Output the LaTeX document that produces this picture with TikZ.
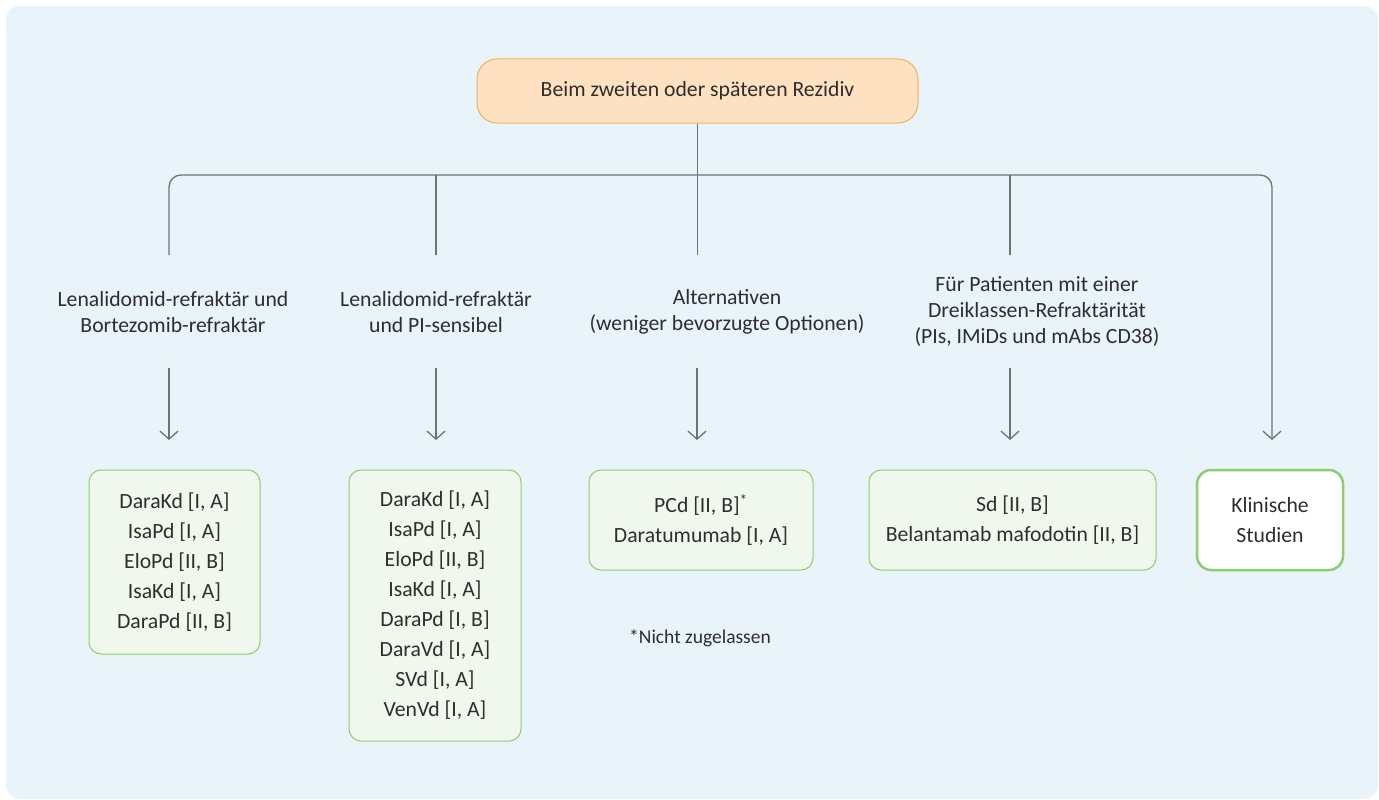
\documentclass[tikz,border=0pt]{standalone}
\usepackage{fontspec}
\setmainfont{Carlito}
\usetikzlibrary{positioning,arrows.meta}
\definecolor{bgblue}{HTML}{E8F3FA}
\definecolor{peach}{HTML}{FDE1C0}
\definecolor{peachline}{HTML}{F3B160}
\definecolor{boxgreen}{HTML}{F0F7EC}
\definecolor{greenline}{HTML}{8FCC6E}
\definecolor{linegray}{HTML}{6E7378}
\definecolor{textgray}{HTML}{2E2E2E}

\begin{document}
\begin{tikzpicture}[x=1pt,y=-1pt,
		every node/.style={text=textgray, font=\fontsize{21.7}{30}\selectfont},
		topbox/.style={draw=peachline, fill=peach, rounded corners=20pt, line width=1pt, minimum width=441pt, minimum height=64pt},
		drugbox/.style={draw=greenline, fill=boxgreen, rounded corners=12pt, line width=1pt, align=center},
		studybox/.style={draw=greenline, fill=white, rounded corners=14pt, line width=2.5pt, align=center, minimum width=146pt, minimum height=100pt},
		grouplabel/.style={align=center, font=\fontsize{21.7}{26}\selectfont},
		branch/.style={draw=linegray, line width=1.3pt},
		arr/.style={branch, -{Straight Barb[length=8pt, width=18pt, line width=1.3pt]}},
	]
						\useasboundingbox (0,0) rectangle (1379,800);
						\fill[bgblue, rounded corners=14pt] (6,6) rectangle (1378,799);

						\node[topbox](rezidiv) at (697.5,91){Beim zweiten oder späteren Rezidiv};

						% Gruppen
						\node[grouplabel](lab1) at (173,312){Lenalidomid-refraktär und\\Bortezomib-refraktär};
						\node[grouplabel](lab2) at (436,312){Lenalidomid-refraktär\\und PI-sensibel};
						\node[grouplabel](lab3) at (727,312){Alternativen\\(weniger bevorzugte Optionen)};
						\node[grouplabel](lab4) at (1037,312){Für Patienten mit einer\\Dreiklassen-Refraktärität\\(PIs, IMiDs und mAbs CD38)};

						% Therapien
						\node[drugbox, minimum width=171pt, minimum height=184pt](box1) at (174.5,562){DaraKd [I, A]\\IsaPd [I, A]\\EloPd [II, B]\\IsaKd [I, A]\\DaraPd [II, B]};
						\node[drugbox, minimum width=172pt, minimum height=271pt](box2) at (435,605.5){DaraKd [I, A]\\IsaPd [I, A]\\EloPd [II, B]\\IsaKd [I, A]\\DaraPd [I, B]\\DaraVd [I, A]\\SVd [I, A]\\VenVd [I, A]};
						\node[drugbox, minimum width=224pt, minimum height=100pt](box3) at (701,520){PCd [II, B]\textsuperscript{*}\\Daratumumab [I, A]};
						\node[drugbox, minimum width=287pt, minimum height=100pt](box4) at (1012.5,520){Sd [II, B]\\Belantamab mafodotin [II, B]};
						\node[studybox](box5) at (1270,520){Klinische\\Studien};
						\node[font=\fontsize{19.5}{24}\selectfont](note) at (700,638){*Nicht zugelassen};

						% Verzweigung
						\coordinate (j1) at (169,255);
						\coordinate (j2) at (436,255);
						\coordinate (j3) at (697,255);
						\coordinate (j4) at (1010,255);
						\coordinate (j5) at (1272,440);
						\draw[branch](rezidiv.south) -- (rezidiv.south |- j3);
						\draw[arr, rounded corners=12pt](j1) |- (697,175) -| (j5);
						\draw[branch](j2) -- (j2 |- 0,175);
						\draw[branch](j4) -- (j4 |- 0,175);

						\draw[arr](169,368) -- (169,440);
						\draw[arr](436,368) -- (436,440);
						\draw[arr](697,368) -- (697,440);
						\draw[arr](1010,368) -- (1010,440);
				\end{tikzpicture}
\end{document}
